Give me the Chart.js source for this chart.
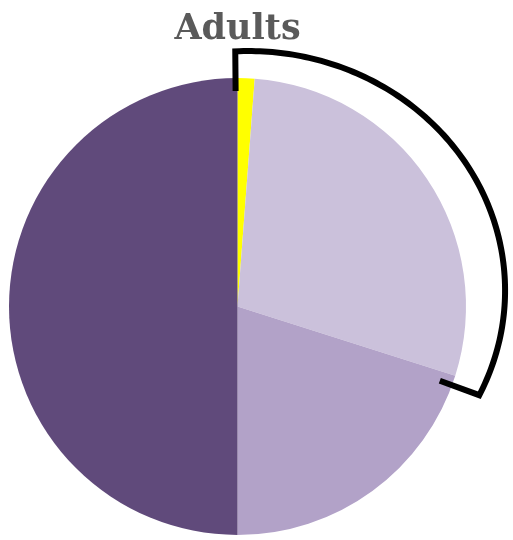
<!DOCTYPE html>
<html>
<head>
<meta charset="utf-8">
<script src="https://cdn.jsdelivr.net/npm/chart.js@4"></script>
<style>
  html, body { margin: 0; padding: 0; background: #fff; }
  #wrap { width: 513px; height: 540px; }
</style>
</head>
<body>
<div id="wrap"><canvas id="adultsChart" width="513" height="540"></canvas></div>
<script>
// share of adults per group, clockwise from 12 o'clock
const groups = ['Group A', 'Group B', 'Group C', 'Group D'];
const shares = [1.2, 28.7, 20.1, 50.0];
const sliceColors = ['#ffff00', '#cbc1db', '#b2a2c8', '#604a7b'];

// the black bracket marks the first two slices together
const bracketFrom = 0;
const bracketTo = 1;

const bracketPlugin = {
    id: 'bracket',
    afterDatasetsDraw(chart) {
        const arcs = chart.getDatasetMeta(0).data;
        const first = arcs[bracketFrom];
        const last = arcs[bracketTo];
        const cx = first.x, cy = first.y, R = first.outerRadius;

        // slightly squashed, off-centre ring around the pie
        const h = cx + 0.048 * R, k = cy - 0.07 * R;
        const rx = 1.123 * R, ry = 1.048 * R;

        // point where a ray from the pie centre meets that ring
        const onRing = (a) => {
            const dx = Math.cos(a), dy = Math.sin(a);
            const ox = (cx - h) / rx, oy = (cy - k) / ry;
            const ux = dx / rx, uy = dy / ry;
            const A = ux * ux + uy * uy;
            const B = 2 * (ox * ux + oy * uy);
            const C = ox * ox + oy * oy - 1;
            const t = (-B + Math.sqrt(B * B - 4 * A * C)) / (2 * A);
            return [cx + t * dx, cy + t * dy];
        };

        const deg = Math.PI / 180;
        const a0 = first.startAngle - 0.5 * deg;
        const a1 = last.endAngle + 2.5 * deg;
        const inner = R - 13;

        const ctx = chart.ctx;
        ctx.save();
        ctx.strokeStyle = '#000';
        ctx.lineWidth = 6;
        ctx.lineJoin = 'miter';
        ctx.lineCap = 'butt';
        ctx.beginPath();
        ctx.moveTo(cx + inner * Math.cos(a0), cy + inner * Math.sin(a0));
        const steps = 120;
        for (let i = 0; i <= steps; i++) {
            const p = onRing(a0 + (a1 - a0) * i / steps);
            ctx.lineTo(p[0], p[1]);
        }
        ctx.lineTo(cx + inner * Math.cos(a1), cy + inner * Math.sin(a1));
        ctx.stroke();
        ctx.restore();
    }
};

new Chart(document.getElementById('adultsChart'), {
    type: 'pie',
    data: {
        labels: groups,
        datasets: [{
            data: shares,
            backgroundColor: sliceColors,
            borderWidth: 0
        }]
    },
    options: {
        responsive: false,
        animation: false,
        layout: { padding: { left: 9, right: 47, top: 0, bottom: 5 } },
        plugins: {
            legend: { display: false },
            tooltip: { enabled: false },
            title: {
                display: true,
                text: 'Adults',
                color: '#5a5a5a',
                font: { family: 'DejaVu Serif', size: 35, weight: 'bold' },
                padding: { top: 9, bottom: 27 }
            }
        }
    },
    plugins: [bracketPlugin]
});
</script>
</body>
</html>
